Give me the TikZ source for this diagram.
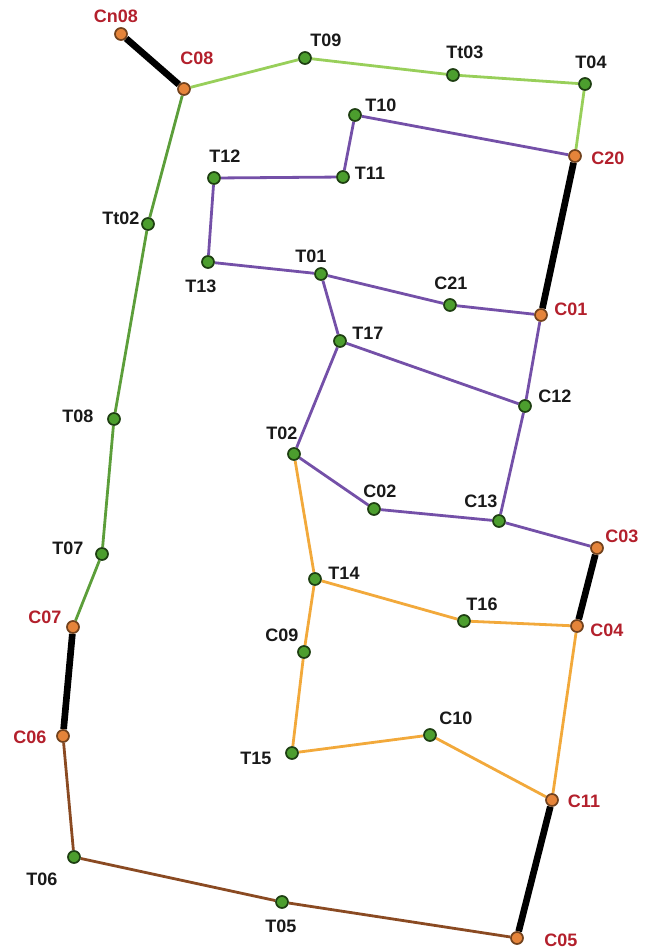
\documentclass[tikz,border=0pt]{standalone}
\usepackage{fontspec}
\setmainfont{Liberation Sans}
\usepackage{xcolor}
\definecolor{pipegreen}{HTML}{5C9E3A}
\definecolor{pipelime}{HTML}{98CF5A}
\definecolor{pipepurple}{HTML}{7450A8}
\definecolor{pipeorange}{HTML}{F2A93B}
\definecolor{pipebrown}{HTML}{8A4A22}
\definecolor{jointgreen}{HTML}{4C9E2E}
\definecolor{jointorange}{HTML}{E5843A}
\definecolor{lblred}{HTML}{B3202C}
\usetikzlibrary{backgrounds}

\begin{document}
\begin{tikzpicture}[
        x=0.75pt, y=-0.75pt,
        tee/.style={circle, draw=jointgreen!40!black, fill=jointgreen, line width=1.3pt, minimum size=9pt, inner sep=0pt},
        cross/.style={circle, draw=jointorange!50!black, fill=jointorange, line width=1.3pt, minimum size=9pt, inner sep=0pt},
        tlbl/.style={font=\fontsize{13.5}{15}\selectfont\bfseries, text=black!90, inner sep=0pt},
        clbl/.style={tlbl, text=lblred},
        valve/.style={line width=5pt, black},
        pipe/.style={line width=2.1pt}
    ]
        \useasboundingbox (0,0) rectangle (647,951);

        % joints
        \node[cross] (Cn08) at (121,34) {};
        \node[cross] (C08) at (184,89) {};
        \node[tee] (T09) at (305,58) {};
        \node[tee] (Tt03) at (453,75) {};
        \node[tee] (T04) at (585,84) {};
        \node[cross] (C20) at (575,156) {};
        \node[tee] (T10) at (355,115) {};
        \node[tee] (T11) at (343,177) {};
        \node[tee] (T12) at (214,178) {};
        \node[tee] (Tt02) at (148,224) {};
        \node[tee] (T13) at (208,262) {};
        \node[tee] (T01) at (321,274) {};
        \node[tee] (C21) at (450,305) {};
        \node[cross] (C01) at (541,315) {};
        \node[tee] (T17) at (340,341) {};
        \node[tee] (C12) at (525,406) {};
        \node[tee] (T08) at (114,419) {};
        \node[tee] (T02) at (294,454) {};
        \node[tee] (C02) at (374,509) {};
        \node[tee] (C13) at (499,521) {};
        \node[cross] (C03) at (597,548) {};
        \node[tee] (T07) at (102,554) {};
        \node[tee] (T14) at (315,579) {};
        \node[cross] (C07) at (73,627) {};
        \node[tee] (T16) at (464,621) {};
        \node[cross] (C04) at (577,626) {};
        \node[tee] (C09) at (304,652) {};
        \node[cross] (C06) at (63,736) {};
        \node[tee] (C10) at (430,735) {};
        \node[tee] (T15) at (292,753) {};
        \node[cross] (C11) at (552,800) {};
        \node[tee] (T06) at (74,857) {};
        \node[tee] (T05) at (282,902) {};
        \node[cross] (C05) at (517,938) {};

        % labels
        \node[clbl] (Cn08-l) at (116,16) {Cn08};
        \node[clbl] (C08-l) at (197,58) {C08};
        \node[tlbl] (T09-l) at (326,40) {T09};
        \node[tlbl] (Tt03-l) at (465,52) {Tt03};
        \node[tlbl] (T04-l) at (591,62) {T04};
        \node[clbl] (C20-l) at (608,158) {C20};
        \node[tlbl] (T10-l) at (381,105) {T10};
        \node[tlbl] (T11-l) at (370,173) {T11};
        \node[tlbl] (T12-l) at (225,156) {T12};
        \node[tlbl] (Tt02-l) at (121,218) {Tt02};
        \node[tlbl] (T13-l) at (201,286) {T13};
        \node[tlbl] (T01-l) at (311,256) {T01};
        \node[tlbl] (C21-l) at (451,283) {C21};
        \node[clbl] (C01-l) at (571,309) {C01};
        \node[tlbl] (T17-l) at (368,333) {T17};
        \node[tlbl] (C12-l) at (555,396) {C12};
        \node[tlbl] (T08-l) at (78,416) {T08};
        \node[tlbl] (T02-l) at (282,433) {T02};
        \node[tlbl] (C02-l) at (380,491) {C02};
        \node[tlbl] (C13-l) at (481,501) {C13};
        \node[clbl] (C03-l) at (622,536) {C03};
        \node[tlbl] (T07-l) at (68,548) {T07};
        \node[tlbl] (T14-l) at (344,573) {T14};
        \node[clbl] (C07-l) at (45,617) {C07};
        \node[tlbl] (T16-l) at (482,604) {T16};
        \node[clbl] (C04-l) at (607,630) {C04};
        \node[tlbl] (C09-l) at (282,635) {C09};
        \node[clbl] (C06-l) at (30,737) {C06};
        \node[tlbl] (C10-l) at (456,718) {C10};
        \node[tlbl] (T15-l) at (256,758) {T15};
        \node[clbl] (C11-l) at (584,801) {C11};
        \node[tlbl] (T06-l) at (42,879) {T06};
        \node[tlbl] (T05-l) at (281,926) {T05};
        \node[clbl] (C05-l) at (561,940) {C05};

        \begin{scope}[on background layer]
            % valves
            \draw[valve] (Cn08) -- (C08);
            \draw[valve] (C20) -- (C01);
            \draw[valve] (C03) -- (C04);
            \draw[valve] (C07) -- (C06);
            \draw[valve] (C11) -- (C05);

            % pipes
            \draw[pipe, pipelime] (C08) -- (T09) -- (Tt03) -- (T04) -- (C20);
            \draw[pipe, pipegreen] (C08) -- (Tt02) -- (T08) -- (T07) -- (C07);
            \draw[pipe, pipebrown] (C06) -- (T06) -- (T05) -- (C05);
            \draw[pipe, pipepurple] (C20) -- (T10) -- (T11) -- (T12) -- (T13) -- (T01) -- (C21) -- (C01) -- (C12) -- (C13);
            \draw[pipe, pipepurple] (T01) -- (T17) -- (C12);
            \draw[pipe, pipepurple] (T17) -- (T02) -- (C02) -- (C13) -- (C03);
            \draw[pipe, pipeorange] (T02) -- (T14) -- (C09) -- (T15) -- (C10) -- (C11) -- (C04) -- (T16) -- (T14);
        \end{scope}

    \end{tikzpicture}
\end{document}
